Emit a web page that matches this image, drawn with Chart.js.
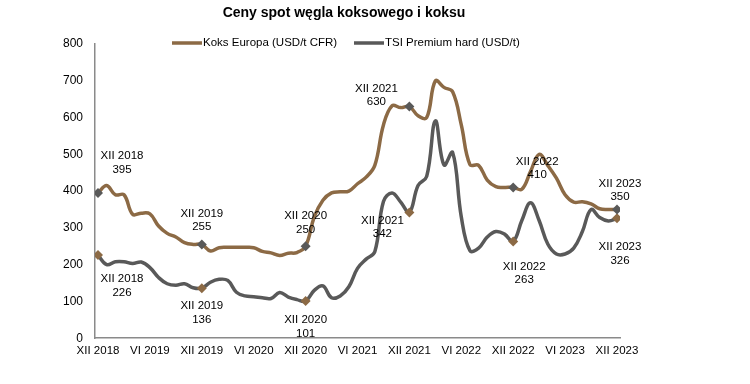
<!DOCTYPE html>
<html>
<head>
<meta charset="utf-8">
<script src="https://cdn.jsdelivr.net/npm/chart.js@4/dist/chart.umd.min.js"></script>
<style>
  html, body { margin: 0; padding: 0; background: #fff; }
  #wrap { width: 750px; height: 384px; }
</style>
</head>
<body>
<div id="wrap"><canvas id="chart"></canvas></div>
<script>
const title = 'Ceny spot węgla koksowego i koksu';
const seriesNames = ['Koks Europa (USD/t CFR)', 'TSI Premium hard (USD/t)'];
const tickLabels = ['XII 2018', 'VI 2019', 'XII 2019', 'VI 2020', 'XII 2020', 'VI 2021',
  'XII 2021', 'VI 2022', 'XII 2022', 'VI 2023', 'XII 2023'];

// monthly values, XII 2018 .. XII 2023
const koks = [395, 415, 390, 390, 337, 340, 338, 305, 285, 275, 260, 255,
  255, 237, 246, 247, 247, 247, 246, 236, 232, 225, 231, 233,
  250, 330, 375, 395, 398, 400, 420, 438, 470, 580, 632, 627,
  630, 605, 600, 700, 682, 670, 580, 472, 470, 430, 412, 410,
  410, 405, 453, 500, 470, 435, 390, 370, 371, 365, 352, 350,
  350];
const tsi = [226, 200, 208, 208, 203, 207, 192, 165, 148, 144, 148, 137,
  136, 152, 160, 157, 125, 115, 113, 110, 108, 124, 112, 105,
  101, 130, 142, 110, 115, 140, 190, 215, 235, 372, 395, 370,
  342, 415, 440, 591, 471, 505, 330, 238, 245, 275, 290, 283,
  263, 320, 368, 320, 256, 229, 229, 245, 290, 350, 328, 319,
  326];
const yTicks = [0, 100, 200, 300, 400, 500, 600, 700, 800];

const markIdx = [0, 12, 24, 36, 48, 60];
// label offsets from the marker (px)
const koksOff = [[24, -37], [0, -31], [0, -30], [-33, -18], [24, -26], [3, -26]];
const tsiOff = [[24, 24], [0, 18], [0, 19], [-27, 8], [11, 25], [3, 29]];

const brown = '#8c6a45';
const grey = '#595959';
const font = '"Liberation Sans", Arial, sans-serif';

const overlay = {
  id: 'overlay',
  afterDraw(chart) {
    const c = chart.ctx;
    const xs = chart.scales.x, ys = chart.scales.y;
    c.save();
    c.fillStyle = '#000';
    c.textAlign = 'center';
    c.textBaseline = 'middle';
    c.font = 'bold 14px ' + font;
    c.fillText(title, 344, 13);

    // legend
    c.font = '11.5px ' + font;
    c.textAlign = 'left';
    c.lineWidth = 3.5;
    [[172, brown], [354, grey]].forEach(([x, col], i) => {
      c.strokeStyle = col;
      c.beginPath(); c.moveTo(x, 43); c.lineTo(x + 30, 43); c.stroke();
      c.fillText(seriesNames[i], x + 31, 43);
    });

    // point labels
    c.textAlign = 'center';
    [[koks, koksOff], [tsi, tsiOff]].forEach(([data, off]) => {
      markIdx.forEach((idx, k) => {
        const px = xs.getPixelForValue(idx) + off[k][0];
        const py = ys.getPixelForValue(data[idx]) + off[k][1];
        c.fillText(tickLabels[idx / 6], px, py);
        c.fillText(String(data[idx]), px, py + 13.5);
      });
    });
    c.restore();
  }
};

const isMark = i => markIdx.includes(i);

new Chart(document.getElementById('chart'), {
  type: 'line',
  data: {
    datasets: [
      {
        label: seriesNames[0],
        data: koks.map((v, i) => ({ x: i, y: v })),
        borderColor: brown,
        borderWidth: 3.5,
        tension: 0.4,
        pointStyle: 'rectRot',
        pointRadius: ctx => isMark(ctx.dataIndex) ? 5 : 0,
        pointBackgroundColor: grey,
        pointBorderColor: grey,
        pointBorderWidth: 0
      },
      {
        label: seriesNames[1],
        data: tsi.map((v, i) => ({ x: i, y: v })),
        borderColor: grey,
        borderWidth: 3.5,
        tension: 0.4,
        pointStyle: 'rectRot',
        pointRadius: ctx => isMark(ctx.dataIndex) ? 5 : 0,
        pointBackgroundColor: brown,
        pointBorderColor: brown,
        pointBorderWidth: 0
      }
    ]
  },
  options: {
    responsive: true,
    maintainAspectRatio: false,
    animation: false,
    layout: { padding: { left: 60, right: 130, top: 44, bottom: 20 } },
    plugins: {
      legend: { display: false },
      title: { display: false },
      tooltip: { enabled: false }
    },
    scales: {
      x: {
        type: 'linear',
        min: -0.35,
        max: 60.35,
        afterBuildTicks: axis => { axis.ticks = tickLabels.map((_, i) => ({ value: i * 6 })); },
        grid: { display: false, drawTicks: false },
        border: { display: true, color: '#8a8a8a', width: 1.5 },
        ticks: {
          padding: 6,
          color: '#000',
          font: { family: font, size: 11.5 },
          maxRotation: 0,
          autoSkip: false,
          callback: v => tickLabels[Math.round(v / 6)]
        }
      },
      y: {
        min: 0,
        max: 800,
        afterBuildTicks: axis => { axis.ticks = yTicks.map(v => ({ value: v })); },
        afterFit: s => { s.width = 35; },
        grid: { display: false, drawTicks: false },
        border: { display: true, color: '#8a8a8a', width: 1.5 },
        ticks: {
          padding: 12,
          color: '#000',
          font: { family: font, size: 12 }
        }
      }
    }
  },
  plugins: [overlay]
});
</script>
</body>
</html>
